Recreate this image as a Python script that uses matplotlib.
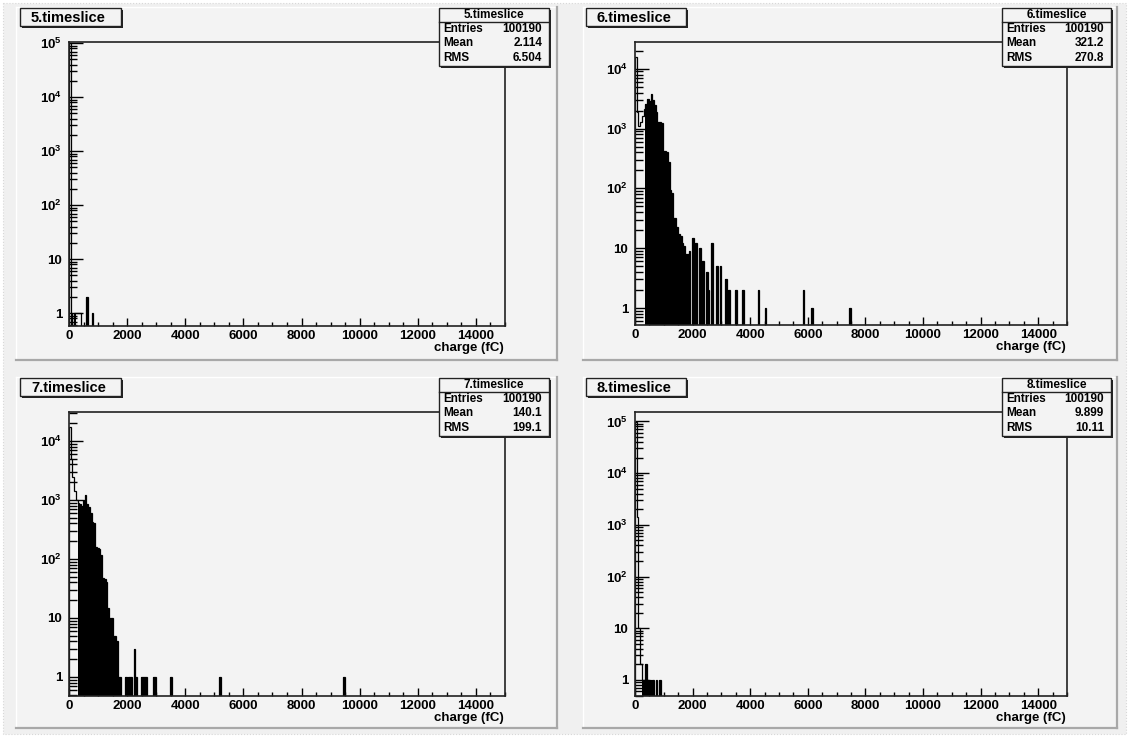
import numpy as np
import matplotlib
matplotlib.use("Agg")
import matplotlib.pyplot as plt
from matplotlib.patches import Rectangle
from matplotlib.ticker import LogLocator, FuncFormatter, MultipleLocator, NullFormatter

plt.rcParams['font.family'] = ['Liberation Sans', 'DejaVu Sans']
plt.rcParams['font.weight'] = 'bold'
plt.rcParams['mathtext.fontset'] = 'custom'
plt.rcParams['mathtext.rm'] = 'Liberation Sans:bold'
plt.rcParams['mathtext.bf'] = 'Liberation Sans:bold'

# ---- data (charge histograms, 60 fC bins, only non-empty bins listed) ----
names = ['5.timeslice', '6.timeslice', '7.timeslice', '8.timeslice']
entries = ['100190', '100190', '100190', '100190']
means = ['2.114', '321.2', '140.1', '9.899']
rmss = ['6.504', '270.8', '199.1', '10.11']

p5_bins = [0, 60, 180, 240, 300, 360, 600, 780]
p5_counts = [100182, 1, 1, 1, 1, 1, 2, 1]

p6_bins = [0, 60, 120, 180, 240, 300, 360, 420, 480, 540, 600, 660, 720, 780,
           840, 900, 960, 1020, 1080, 1140, 1200, 1260, 1320, 1380, 1440, 1500,
           1560, 1620, 1680, 1740, 1800, 1860, 1980, 2100, 2220, 2340, 2460,
           2520, 2640, 2820, 2940, 3120, 3240, 3480, 3720, 4260, 4500, 5820,
           6120, 7440]
p6_counts = [16000, 1900, 1100, 1300, 1600, 2100, 2600, 3100, 2900, 3800, 3000,
             2500, 1900, 1300, 1300, 1250, 420, 420, 400, 280, 95, 85, 32, 32,
             23, 17, 16, 12, 11, 8, 8, 9, 15, 12, 10, 6, 4, 2, 12, 5, 5, 3, 2,
             2, 2, 2, 1, 2, 1, 1]

p7_bins = [0, 60, 120, 180, 240, 300, 360, 420, 480, 540, 600, 660, 720, 780,
           840, 900, 960, 1020, 1080, 1140, 1200, 1260, 1320, 1380, 1440, 1500,
           1560, 1620, 1680, 1740, 1920, 2040, 2100, 2220, 2280, 2460, 2520,
           2580, 2640, 2880, 2940, 3480, 5160, 9420]
p7_counts = [17000, 5000, 2500, 1400, 1000, 900, 850, 800, 1000, 1200, 850,
             750, 600, 420, 400, 160, 155, 150, 117, 48, 45, 40, 15, 10, 10, 5,
             5, 4, 1, 1, 1, 1, 1, 3, 1, 1, 1, 1, 1, 1, 1, 1, 1, 1]

p8_bins = [0, 60, 120, 180, 240, 300, 360, 420, 480, 600, 720, 840]
p8_counts = [98770, 1400, 10, 2, 1, 1, 2, 1, 1, 1, 1, 1]

all_bins = [p5_bins, p6_bins, p7_bins, p8_bins]
all_counts = [p5_counts, p6_counts, p7_counts, p8_counts]
# charge ranges drawn solid (dense, unresolved bins); the rest is outline only
fill_ranges = [[(60, 240), (420, 15000)], [(360, 15000)], [(300, 15000)],
               [(240, 15000)]]
ylims = [(0.58, 1.05e5), (0.52, 2.8e4), (0.476, 3.1e4), (0.49, 1.52e5)]

BIN = 60
edges = np.arange(0, 15000 + BIN, BIN)

# ---- layout in pixels (left, top, right, bottom) ----
W, H = 1130, 738
axes_px = [(69, 42, 505, 326), (635, 42, 1067, 325),
           (69, 412, 505, 696), (635, 412, 1067, 696)]
pads_px = [(16, 7, 557, 360), (583, 7, 1117, 360),
           (16, 377, 557, 728), (583, 377, 1117, 728)]
title_px = [(20, 8, 121, 26), (586, 8, 686, 26),
            (20, 378, 121, 396), (586, 378, 686, 396)]
stats_px = [(439, 8, 549, 66), (1002, 8, 1111, 66),
            (439, 378, 549, 436), (1002, 378, 1111, 436)]

PAD = '#f3f3f3'

fig = plt.figure(figsize=(W / 100, H / 100), dpi=100)
fig.patch.set_facecolor('white')

bg = fig.add_axes([0, 0, 1, 1], zorder=0)
bg.set_xlim(0, W)
bg.set_ylim(H, 0)
bg.axis('off')
bg.add_patch(Rectangle((3, 3), W - 7, H - 7, facecolor='#f0f0f0',
                       edgecolor='#d8d8d8', lw=0.8, ls=':'))
for l, t, r, b in pads_px:
    bg.add_patch(Rectangle((l, t), r - l, b - t, facecolor=PAD, edgecolor='none'))
    bg.plot([l, r], [t, t], color='white', lw=1)
    bg.plot([l, l], [t, b], color='white', lw=1)
    bg.plot([l, r], [b, b], color='#a8a8a8', lw=1.6)
    bg.plot([r, r], [t, b], color='#a8a8a8', lw=1.6)


def ylabel_fmt(v, pos):
    if v <= 0:
        return ''
    e = int(round(np.log10(v)))
    if e == 0:
        return '1'
    if e == 1:
        return '10'
    return r'$\mathbf{10^{%d}}$' % e


for i in range(4):
    l, t, r, b = axes_px[i]
    ax = fig.add_axes([l / W, 1 - b / H, (r - l) / W, (b - t) / H], zorder=2)
    ax.set_facecolor('none')
    counts = np.zeros(len(edges) - 1)
    idx = np.array(all_bins[i]) // BIN
    counts[idx] = all_counts[i]

    for f0, f1 in fill_ranges[i]:
        i0, i1 = f0 // BIN, f1 // BIN
        ax.stairs(counts[i0:i1], edges[i0:i1 + 1], fill=True, baseline=1e-3,
                  color='black', lw=0)
    ax.stairs(counts, edges, baseline=1e-3, color='black', lw=0.9)

    ax.set_yscale('log')
    ax.set_xlim(0, 15000)
    ax.set_ylim(*ylims[i])

    ax.xaxis.set_major_locator(MultipleLocator(2000))
    ax.xaxis.set_minor_locator(MultipleLocator(500))
    ax.yaxis.set_major_locator(LogLocator(base=10, numticks=12))
    ax.yaxis.set_minor_locator(LogLocator(base=10, subs=np.arange(2, 10), numticks=12))
    ax.yaxis.set_major_formatter(FuncFormatter(ylabel_fmt))
    ax.yaxis.set_minor_formatter(NullFormatter())

    ax.tick_params(axis='both', which='both', direction='in', top=False,
                   right=False, labelsize=9.5, width=1, colors='black')
    ax.tick_params(axis='y', which='major', length=10, pad=5)
    ax.tick_params(axis='y', which='minor', length=5.5)
    ax.tick_params(axis='x', which='major', length=6, pad=3)
    ax.tick_params(axis='x', which='minor', length=3)
    for lab in ax.get_xticklabels() + ax.get_yticklabels():
        lab.set_fontweight('bold')
    for s in ax.spines.values():
        s.set_linewidth(1.2)
        s.set_color('#222222')

# ---- overlay: title boxes, stats boxes, axis titles ----
ov = fig.add_axes([0, 0, 1, 1], zorder=10)
ov.set_xlim(0, W)
ov.set_ylim(H, 0)
ov.axis('off')
ov.patch.set_alpha(0)

for i in range(4):
    l, t, r, b = title_px[i]
    ov.add_patch(Rectangle((l + 2, t + 2), r - l, b - t, facecolor='#222222',
                           edgecolor='none'))
    ov.add_patch(Rectangle((l, t), r - l, b - t, facecolor=PAD,
                           edgecolor='#222222', lw=1))
    ov.text((l + r) / 2 - 2, (t + b) / 2 + 0.5, names[i], ha='center',
            va='center', fontsize=10.5, fontweight='bold')

    l, t, r, b = stats_px[i]
    ov.add_patch(Rectangle((l + 2, t + 2), r - l, b - t, facecolor='#222222',
                           edgecolor='none'))
    ov.add_patch(Rectangle((l, t), r - l, b - t, facecolor=PAD,
                           edgecolor='#222222', lw=1))
    ov.plot([l, r], [t + 14, t + 14], color='#222222', lw=1)
    ov.text((l + r) / 2, t + 7, names[i], ha='center', va='center',
            fontsize=8.5, fontweight='bold')
    rows = [('Entries', entries[i]), ('Mean', means[i]), ('RMS', rmss[i])]
    for k, (lab, val) in enumerate(rows):
        yy = t + 21 + k * 14.5
        ov.text(l + 4, yy, lab, ha='left', va='center', fontsize=8.5,
                fontweight='bold')
        ov.text(r - 7, yy, val, ha='right', va='center', fontsize=8.5,
                fontweight='bold')

    al, at, ar, ab = axes_px[i]
    ov.text(ar - 1, ab + 22, 'charge (fC)', ha='right', va='center',
            fontsize=9.5, fontweight='bold')

fig.savefig('out.png', dpi=100, facecolor=fig.get_facecolor())
